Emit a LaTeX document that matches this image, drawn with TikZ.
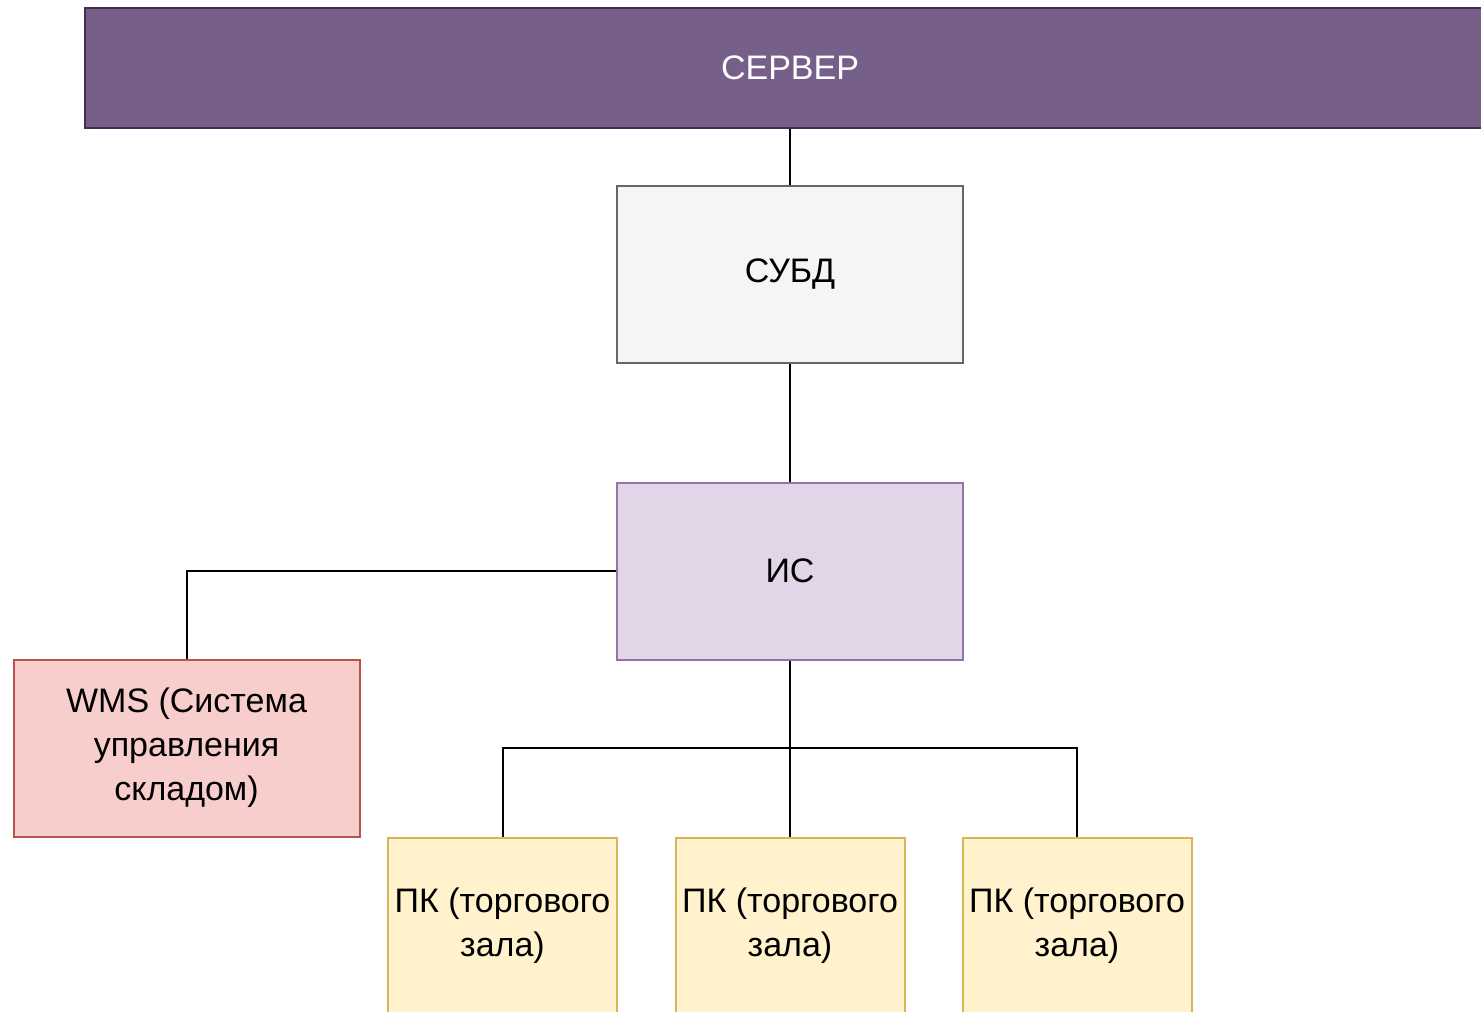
\documentclass[tikz,border=0pt]{standalone}
\usepackage{fontspec}
\setmainfont{Liberation Sans}
\definecolor{serverfill}{HTML}{76608A}
\definecolor{serverline}{HTML}{432D57}
\definecolor{dbfill}{HTML}{F5F5F5}
\definecolor{dbline}{HTML}{666666}
\definecolor{isfill}{HTML}{E1D5E7}
\definecolor{isline}{HTML}{9673A6}
\definecolor{wmsfill}{HTML}{F8CECC}
\definecolor{wmsline}{HTML}{B85450}
\definecolor{pcfill}{HTML}{FFF2CC}
\definecolor{pcline}{HTML}{D6B656}
\tikzset{
  block/.style={draw,line width=1pt,inner sep=0pt,align=center,
    minimum width=173pt,minimum height=88.5pt,
    font=\fontsize{17}{22}\selectfont},
  pcblock/.style={block,fill=pcfill,draw=pcline,minimum width=114.5pt},
  link/.style={line width=1pt,black}
}
\begin{document}
\begin{tikzpicture}[x=0.5pt,y=-0.5pt]
\useasboundingbox (0,0) rectangle (1481,1011);
%%Server
\node[block,fill=serverfill,draw=serverline,text=white,
  minimum width=705pt,minimum height=60pt] (server) at (790,68) {СЕРВЕР};
%%DB and IS
\node[block,fill=dbfill,draw=dbline] (subd) at (790,274.5) {СУБД};
\node[block,fill=isfill,draw=isline] (is) at (790,571) {ИС};
\node[block,fill=wmsfill,draw=wmsline] (wms) at (186.5,748)
  {WMS (Система\\управления\\складом)};
%%PCs
\node[pcblock] (pc1) at (502.5,926) {ПК (торгового\\зала)};
\node[pcblock] (pc2) at (790,926) {ПК (торгового\\зала)};
\node[pcblock] (pc3) at (1077,926) {ПК (торгового\\зала)};
%%Links
\coordinate (bus) at (790,748);
\draw[link] (server) -- (subd);
\draw[link] (subd) -- (is);
\draw[link] (is.west) -| (wms.north);
\draw[link] (is) -- (pc2);
\draw[link] (pc1.north) |- (bus) -| (pc3.north);
\end{tikzpicture}
\end{document}
